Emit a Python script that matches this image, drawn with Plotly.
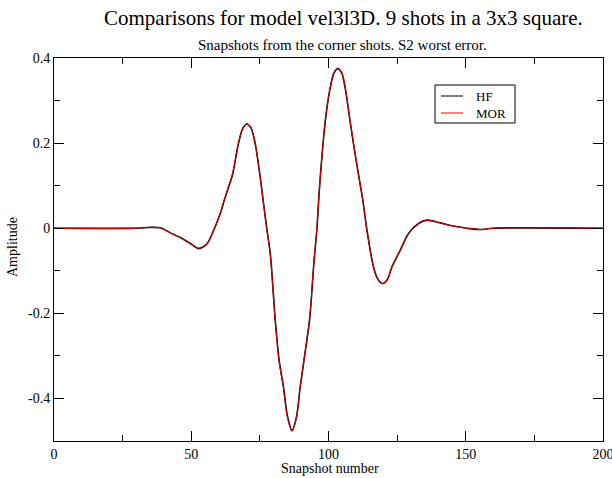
import plotly.graph_objects as go

snapshot = [0, 30, 35, 38.7, 42.4, 46.0, 49.7, 52.7, 55.7, 58.1, 60.6, 62.0, 63.5, 65.0,
            67.2, 68.8, 70.3, 71.8, 73.3, 75.1, 76.3, 77.5, 78.8, 80.6, 82.0, 83.6, 85.0,
            86.7, 88.3, 89.7, 91.3, 93.1, 94.7, 95.8, 96.7, 98.8, 100.6, 102.0, 103.4,
            104.8, 106.1, 107.9, 109.8, 111.8, 112.5, 114.2, 116.4, 118.0, 119.8, 121.5,
            123.1, 126.1, 129.1, 132.8, 135.8, 140.7, 145.5, 150.4, 155.2, 160, 200]

hf = [0, 0, 0.002, 0.001, -0.011, -0.022, -0.036, -0.048, -0.037, -0.006, 0.035, 0.065,
      0.095, 0.125, 0.199, 0.235, 0.245, 0.235, 0.199, 0.121, 0.060, 0.0, -0.060, -0.216,
      -0.310, -0.373, -0.440, -0.475, -0.445, -0.373, -0.300, -0.216, -0.080, 0.0, 0.093,
      0.250, 0.329, 0.365, 0.375, 0.365, 0.329, 0.250, 0.170, 0.093, 0.066, -0.013,
      -0.091, -0.120, -0.130, -0.120, -0.091, -0.052, -0.013, 0.011, 0.019, 0.0125,
      0.005, 0.0, -0.003, 0.0, 0.0]

mor = [0, 0, 0.002, 0.001, -0.011, -0.022, -0.036, -0.047, -0.037, -0.006, 0.035, 0.066,
       0.096, 0.126, 0.200, 0.236, 0.246, 0.236, 0.199, 0.121, 0.059, -0.001, -0.062, -0.218,
       -0.312, -0.376, -0.443, -0.478, -0.446, -0.372, -0.298, -0.214, -0.078, 0.002, 0.094,
       0.251, 0.330, 0.366, 0.376, 0.366, 0.330, 0.251, 0.171, 0.093, 0.066, -0.013,
       -0.091, -0.120, -0.130, -0.120, -0.091, -0.052, -0.013, 0.011, 0.019, 0.0125,
       0.005, 0.0, -0.003, 0.0, 0.0]

series_names = ["HF", "MOR"]
series_colors = ["black", "red"]

x_ticks = [0, 50, 100, 150, 200]
y_ticks = [-0.4, -0.2, 0, 0.2, 0.4]
y_tick_labels = ["-0.4", "-0.2", "0", "0.2", "0.4"]

FONT = "Liberation Serif, Times New Roman, serif"

W, H = 612, 478
ML, MR, MT, MB = 54, 9, 58, 37
PW, PH = W - ML - MR, H - MT - MB

def px_x(p):
    return (p - ML) / PW

def px_y(p):
    return (H - MB - p) / PH

fig = go.Figure()
for name, vals, col, w in zip(series_names, [hf, mor], series_colors, [1.6, 0.9]):
    fig.add_trace(go.Scatter(x=snapshot, y=vals, mode="lines", name=name, showlegend=False,
                             line=dict(color=col, width=w, shape="spline", smoothing=0.8)))

axis_common = dict(
    showgrid=False, zeroline=False, showline=True, linecolor="black", linewidth=1,
    mirror="allticks", ticks="inside", ticklen=10, tickcolor="black", tickwidth=1,
    tickfont=dict(family=FONT, size=14, color="black"), automargin=False,
    ticklabeloverflow="allow",
)

fig.update_xaxes(range=[0, 200], tickvals=x_ticks,
                 minor=dict(ticks="inside", ticklen=6, dtick=25, tick0=0, tickcolor="black", tickwidth=1),
                 **axis_common)
fig.update_yaxes(range=[-0.5, 0.4], tickvals=y_ticks, ticktext=y_tick_labels,
                 minor=dict(ticks="inside", ticklen=6, dtick=0.1, tick0=0, tickcolor="black", tickwidth=1),
                 **axis_common)

annotations = [
    dict(text="Comparisons for model vel3l3D. 9 shots in a 3x3 square.",
         x=px_x(343), y=px_y(18), size=21),
    dict(text="Snapshots from the corner shots. S2 worst error.",
         x=px_x(342), y=px_y(45), size=15),
    dict(text="Snapshot number", x=px_x(330), y=px_y(468), size=14),
    dict(text="HF", x=px_x(474), y=px_y(96), size=13, xanchor="left"),
    dict(text="MOR", x=px_x(474), y=px_y(113), size=13, xanchor="left"),
]
ann_objs = []
for a in annotations:
    ann_objs.append(dict(text=a["text"], x=a["x"], y=a["y"], xref="paper", yref="paper",
                         showarrow=False, xanchor=a.get("xanchor", "center"), yanchor="middle",
                         font=dict(family=FONT, size=a["size"], color="black")))
ann_objs.append(dict(text="Amplitude", x=px_x(12), y=px_y(247), xref="paper", yref="paper",
                     showarrow=False, textangle=-90, xanchor="center", yanchor="middle",
                     font=dict(family=FONT, size=14, color="black")))

# legend drawn with shapes (box and line samples)
shapes = [
    dict(type="rect", xref="paper", yref="paper", x0=px_x(435), x1=px_x(515),
         y0=px_y(123), y1=px_y(85), line=dict(color="black", width=1), fillcolor="white"),
    dict(type="line", xref="paper", yref="paper", x0=px_x(441), x1=px_x(463),
         y0=px_y(96), y1=px_y(96), line=dict(color=series_colors[0], width=1)),
    dict(type="line", xref="paper", yref="paper", x0=px_x(441), x1=px_x(463),
         y0=px_y(113), y1=px_y(113), line=dict(color=series_colors[1], width=1)),
]

fig.update_layout(
    width=W, height=H,
    margin=dict(l=ML, r=MR, t=MT, b=MB),
    paper_bgcolor="white", plot_bgcolor="white",
    font=dict(family=FONT, color="black"),
    showlegend=False,
    annotations=ann_objs,
    shapes=shapes,
)

fig.write_html("out.html", config={"displayModeBar": False},
               post_script="document.body.style.margin='0';document.body.style.padding='0';")
